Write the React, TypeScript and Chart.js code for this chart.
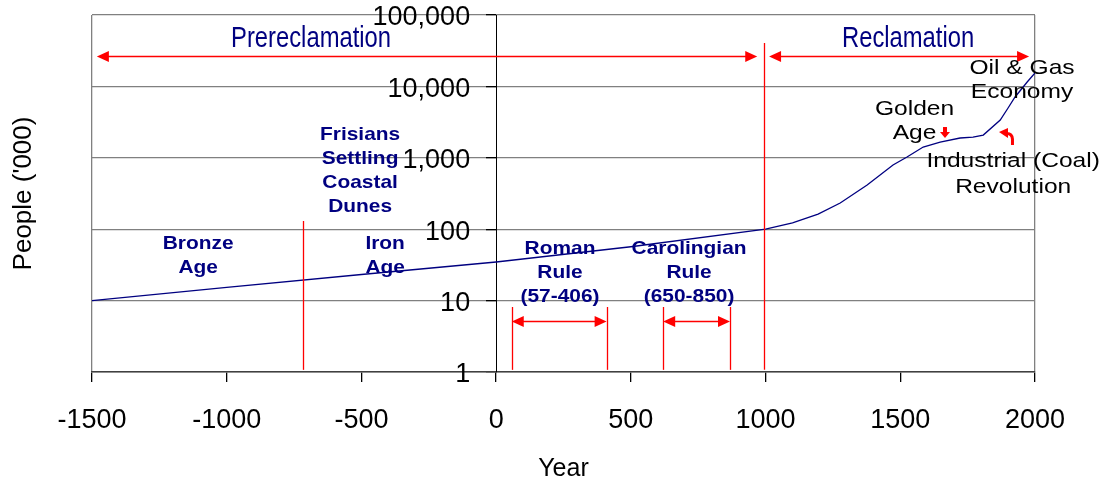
import React, { useEffect, useRef } from 'react';
import { Chart, registerables } from 'chart.js';

Chart.register(...registerables);

// ---- data ----
const years = [-1500, -1000, -500, 0, 500, 1000, 1100, 1195, 1277, 1377, 1473, 1525, 1585, 1648, 1722, 1770, 1808, 1871, 1900, 1926, 1971, 2000];
const population = [10, 15.3, 23.2, 34.7, 56.8, 100, 123, 163, 233, 416, 793, 1026, 1416, 1663, 1893, 1950, 2084, 3383, 4980, 7110, 11530, 15400];
const xTickValues = [-1500, -1000, -500, 0, 500, 1000, 1500, 2000];
const yTickValues = [1, 10, 100, 1000, 10000, 100000];

// marker lines: year, log10 low, log10 high
const markerYears = [-716, 58, 410, 620, 868, 994];
const markerLow = [0.03, 0.03, 0.03, 0.03, 0.03, 0.03];
const markerHigh = [2.115, 0.91, 0.91, 0.91, 0.91, 4.608];

// double arrows: from year, to year, log10 level
const arrowFrom = [-1482, 1013, 58, 620];
const arrowTo = [969, 1978, 410, 868];
const arrowLevel = [4.43, 4.43, 0.714, 0.714];

// text labels
const eraLabels = [
  { text: ['Prereclamation'], year: -687, lg: 4.664 },
  { text: ['Reclamation'], year: 1529, lg: 4.664 },
];
const periodLabels = [
  { text: ['Bronze', 'Age'], year: -1106, lg: 1.793 },
  { text: ['Iron', 'Age'], year: -412, lg: 1.793 },
  { text: ['Frisians', 'Settling', 'Coastal', 'Dunes'], year: -505, lg: 3.319 },
  { text: ['Roman', 'Rule', '(57-406)'], year: 237, lg: 1.723 },
  { text: ['Carolingian', 'Rule', '(650-850)'], year: 716, lg: 1.723 },
];
const eventLabels = [
  { text: ['Oil & Gas', 'Economy'], year: 1952, lg: 4.258 },
  { text: ['Golden', 'Age'], year: 1553, lg: 3.683 },
  { text: ['Industrial (Coal)', 'Revolution'], year: 1919, lg: 2.955 },
];
const goldenArrow = { year: 1666, lg: 3.361 };
const coalArrow = { year: 1896, lg: 3.291 };

const RED = '#ff0000';
const NAVY = '#000080';
const FONT = '"Liberation Sans", Arial, sans-serif';
const Y_LABEL_SHIFT_X = 26;
const Y_LABEL_SHIFT_Y = 3;

function drawText(ctx: CanvasRenderingContext2D, t: string, x: number, y: number, font: string, color: string, sx: number) {
  ctx.save();
  ctx.translate(x, y);
  ctx.scale(sx, 1);
  ctx.font = font;
  ctx.fillStyle = color;
  ctx.textAlign = 'center';
  ctx.textBaseline = 'middle';
  ctx.fillText(t, 0, 0);
  ctx.restore();
}

function arrowHead(ctx: CanvasRenderingContext2D, tipX: number, y: number, dir: number) {
  const len = 12, hw = 5.5;
  ctx.beginPath();
  ctx.moveTo(tipX, y);
  ctx.lineTo(tipX - dir * len, y - hw);
  ctx.lineTo(tipX - dir * len, y + hw);
  ctx.closePath();
  ctx.fill();
}

// offsets the y-axis tick labels (axis placed at x = 0) to the left of its tick marks
const yLabelOffsetPlugin = {
  id: 'yLabelOffset',
  beforeDraw(chart: any) {
    const ys = chart.scales.y;
    const items = ys.getLabelItems(chart.chartArea);
    items.forEach((it: any) => {
      if (!it.__shifted) {
        it.options.translation[0] -= Y_LABEL_SHIFT_X;
        it.options.translation[1] += Y_LABEL_SHIFT_Y;
        it.__shifted = true;
      }
    });
  },
};

const annotationPlugin = {
  id: 'annotations',
  afterDatasetsDraw(chart: any) {
    const ctx: CanvasRenderingContext2D = chart.ctx;
    const xs = chart.scales.x;
    const ys = chart.scales.y;
    const px = (yr: number) => xs.getPixelForValue(yr);
    const py = (lg: number) => ys.getPixelForValue(Math.pow(10, lg));
    ctx.save();
    ctx.strokeStyle = RED;
    ctx.fillStyle = RED;
    ctx.lineWidth = 1.3;
    markerYears.forEach((yr, i) => {
      const x = Math.round(px(yr)) + 0.5;
      ctx.beginPath();
      ctx.moveTo(x, py(markerLow[i]));
      ctx.lineTo(x, py(markerHigh[i]));
      ctx.stroke();
    });
    arrowFrom.forEach((a, i) => {
      const x1 = px(a), x2 = px(arrowTo[i]);
      const y = Math.round(py(arrowLevel[i])) + 0.5;
      ctx.beginPath();
      ctx.moveTo(x1 + 6, y);
      ctx.lineTo(x2 - 6, y);
      ctx.stroke();
      arrowHead(ctx, x1, y, -1);
      arrowHead(ctx, x2, y, 1);
    });
    // golden age block arrow (down)
    {
      const x = px(goldenArrow.year), y = py(goldenArrow.lg);
      ctx.fillRect(x - 2, y - 5, 4, 6);
      ctx.beginPath();
      ctx.moveTo(x - 5, y);
      ctx.lineTo(x + 5, y);
      ctx.lineTo(x, y + 6);
      ctx.closePath();
      ctx.fill();
    }
    // coal hook arrow
    {
      const x = px(coalArrow.year), y = py(coalArrow.lg);
      ctx.lineWidth = 3;
      ctx.beginPath();
      ctx.moveTo(x + 5.5, y + 8);
      ctx.lineTo(x + 5.5, y + 2);
      ctx.quadraticCurveTo(x + 5, y - 3.5, x, y - 3.5);
      ctx.stroke();
      ctx.beginPath();
      ctx.moveTo(x - 8, y - 5);
      ctx.lineTo(x + 1, y - 9);
      ctx.lineTo(x + 1, y + 1);
      ctx.closePath();
      ctx.fill();
    }
    eraLabels.forEach((l) => {
      l.text.forEach((t, j) => drawText(ctx, t, px(l.year), py(l.lg) + j * 24, `29px ${FONT}`, NAVY, 0.82));
    });
    periodLabels.forEach((l) => {
      l.text.forEach((t, j) => drawText(ctx, t, px(l.year), py(l.lg) + j * 23.8, `bold 19px ${FONT}`, NAVY, 1.1));
    });
    eventLabels.forEach((l) => {
      const gap = l.text[0].startsWith('Industrial') ? 26 : 24;
      l.text.forEach((t, j) => drawText(ctx, t, px(l.year), py(l.lg) + j * gap, `21px ${FONT}`, '#000', 1.17));
    });
    ctx.restore();
  },
};

export default function App() {
  const ref = useRef<HTMLCanvasElement | null>(null);
  useEffect(() => {
    if (!ref.current) return;
    const tickFont = { family: FONT, size: 27 };
    const chart = new Chart(ref.current, {
      type: 'line',
      data: {
        datasets: [
          {
            data: years.map((x, i) => ({ x, y: population[i] })),
            borderColor: NAVY,
            borderWidth: 1.3,
            pointRadius: 0,
            tension: 0,
            xAxisID: 'x',
            yAxisID: 'y',
          },
        ],
      },
      options: {
        animation: false,
        responsive: false,
        events: [],
        layout: { padding: { top: 15, right: 75, left: 0, bottom: 0 } },
        plugins: { legend: { display: false }, tooltip: { enabled: false } },
        scales: {
          x: {
            type: 'linear',
            position: 'bottom',
            min: -1500,
            max: 2000,
            afterBuildTicks: (s: any) => {
              s.ticks = xTickValues.map((v) => ({ value: v }));
            },
            afterFit: (s: any) => {
              s.height = 108;
              s.paddingLeft = 0;
              s.paddingRight = 0;
            },
            ticks: { font: tickFont, color: '#000', padding: 22, maxRotation: 0, autoSkip: false, callback: (v: any) => String(v) },
            grid: {
              drawOnChartArea: true,
              color: (c: any) => (c.tick && (c.tick.value === -1500 || c.tick.value === 2000) ? '#808080' : 'rgba(0,0,0,0)'),
              lineWidth: 1.3,
              tickColor: '#000',
              tickLength: 10,
            },
            border: { color: '#404040', width: 1.5 },
            title: { display: true, text: 'Year', font: { family: FONT, size: 25 }, color: '#000', padding: { top: 0, bottom: -4 } },
          },
          yTitle: {
            type: 'linear',
            position: 'left',
            afterFit: (s: any) => {
              s.width = 92;
              s.paddingTop = 0;
              s.paddingBottom = 0;
            },
            ticks: { display: false },
            grid: { display: false },
            border: { display: false },
            title: { display: true, text: "People ('000)", font: { family: FONT, size: 26 }, color: '#000', padding: { top: 8, bottom: 0 } },
          },
          y: {
            type: 'logarithmic',
            position: { x: 0 } as any,
            min: 1,
            max: 100000,
            afterBuildTicks: (s: any) => {
              s.ticks = yTickValues.map((v) => ({ value: v }));
            },
            afterFit: (s: any) => {
              s.paddingTop = 0;
              s.paddingBottom = 0;
            },
            ticks: {
              font: tickFont,
              color: '#000',
              autoSkip: false,
              callback: (v: any) => Number(v).toLocaleString('en-US'),
            },
            grid: { color: '#808080', lineWidth: 1.3, tickColor: '#000', tickLength: 10 },
            border: { color: '#000', width: 1 },
          },
        },
      } as any,
      plugins: [yLabelOffsetPlugin, annotationPlugin],
    });
    return () => chart.destroy();
  }, []);
  return (
    <div style={{ position: 'absolute', left: 0, top: 0, width: 1110, height: 480, background: '#fff' }}>
      <canvas ref={ref} width={1110} height={480} style={{ display: 'block' }} />
    </div>
  );
}
